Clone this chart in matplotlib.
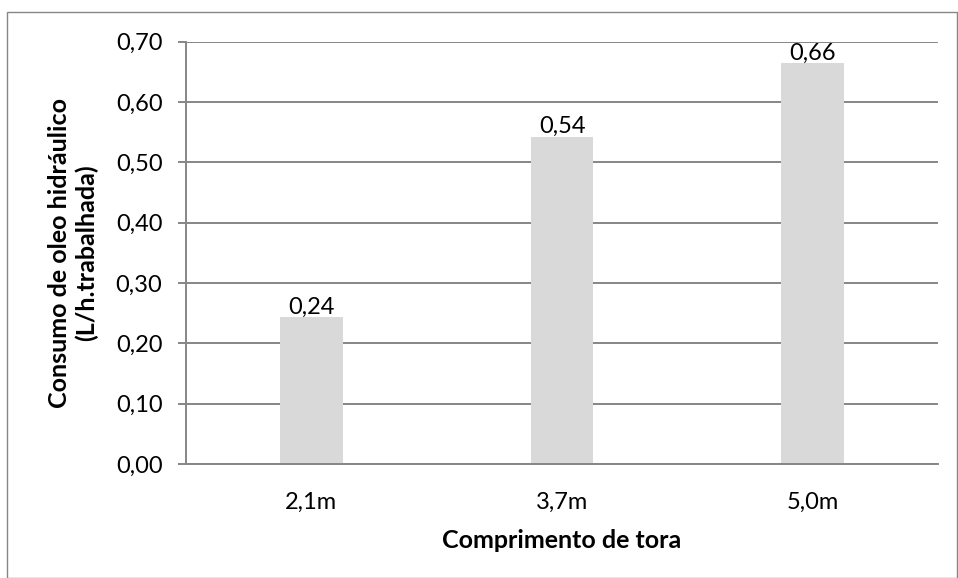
import matplotlib
matplotlib.use("Agg")
import matplotlib.pyplot as plt
from matplotlib.patches import Rectangle
from matplotlib.ticker import MultipleLocator, FuncFormatter

categories = ["2,1m", "3,7m", "5,0m"]
values = [0.243, 0.542, 0.664]
value_labels = ["0,24", "0,54", "0,66"]
y_label = "Consumo de oleo hidráulico\n(L/h.trabalhada)"
x_label = "Comprimento de tora"

plt.rcParams['font.family'] = ['Lato', 'DejaVu Sans']

W, H = 958, 578
fig = plt.figure(figsize=(W / 100, H / 100), dpi=100)
fig.patch.set_facecolor('white')

# outer chart border
fig.patches.append(Rectangle((7 / W, 0), (W - 8) / W, (H - 12) / H,
                             transform=fig.transFigure, fill=False,
                             edgecolor='#868686', linewidth=1.0))

left, right, top, bottom = 186, 938, 41.7, 464
ax = fig.add_axes([left / W, 1 - bottom / H, (right - left) / W, (bottom - top) / H])

grid_c = '#868686'
x = list(range(len(categories)))
ax.bar(x, values, width=0.25, color='#D9D9D9', zorder=2)
ax.set_xlim(-0.5, len(categories) - 0.5)
ax.set_ylim(0, 0.70)
ax.yaxis.set_major_locator(MultipleLocator(0.10))
ax.yaxis.set_major_formatter(FuncFormatter(lambda v, p: f"{v:.2f}".replace('.', ',')))
ax.grid(axis='y', color=grid_c, linewidth=1.4, zorder=0)
ax.set_axisbelow(True)

for s in ['top', 'right']:
    ax.spines[s].set_visible(False)
for s in ['left', 'bottom']:
    ax.spines[s].set_color(grid_c)
    ax.spines[s].set_linewidth(1.4)

ax.set_xticks(x)
ax.set_xticklabels(categories)
ax.tick_params(axis='x', length=0, pad=20, labelsize=17)
ax.tick_params(axis='y', length=6, width=1.4, color=grid_c, pad=11, labelsize=17)

for xi, v, lab in zip(x, values, value_labels):
    ax.annotate(lab, (xi, v), xytext=(0, 0), textcoords='offset points',
                ha='center', va='bottom', fontsize=17)

ax.set_xlabel(x_label, fontsize=18, fontweight='bold', va='center')
ax.xaxis.set_label_coords(0.5, -(540 - bottom) / (bottom - top))
ax.set_ylabel(y_label, fontsize=18, fontweight='bold', va='center', ha='center',
              linespacing=1.2)
ax.yaxis.set_label_coords(-(left - 73) / (right - left), 0.5)

fig.savefig('out.png', dpi=100, facecolor='white')
